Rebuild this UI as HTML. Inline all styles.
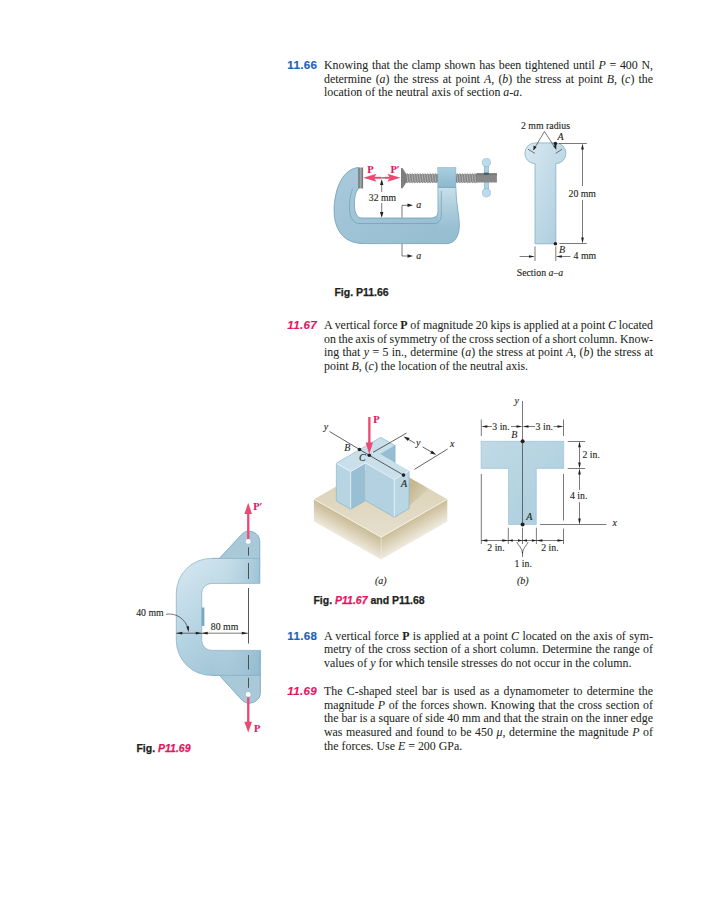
<!DOCTYPE html>
<html><head><meta charset="utf-8">
<style>
html,body{margin:0;padding:0;background:#fff;}
#pg{position:relative;width:719px;height:900px;overflow:hidden;background:#fff;font-family:"Liberation Serif",serif;color:#231f20;}
.p{position:absolute;left:324px;width:329px;-webkit-text-stroke:0.05px #231f20;font-size:11.9px;line-height:13.7px;}
.p div{white-space:nowrap;text-align:justify;text-align-last:justify;}
.p div.l{text-align:left;text-align-last:left;}
.num{position:absolute;left:287.3px;font-family:"Liberation Sans",sans-serif;font-weight:bold;font-size:11.6px;letter-spacing:0.3px;line-height:13px;-webkit-text-stroke:0.15px currentColor;}
.blue{color:#1d63b5;}
.red{color:#e2175f;font-style:italic;}
i{font-style:italic;}
.fig{position:absolute;font-family:"Liberation Sans",sans-serif;font-weight:bold;font-size:10.5px;color:#231f20;letter-spacing:0px;-webkit-text-stroke:0.25px currentColor;}
svg{position:absolute;left:0;top:0;}
</style></head><body><div id="pg">

<svg width="719" height="900" viewBox="0 0 719 900" font-family="Liberation Serif, serif">
<style>text{stroke-width:0.12px;}</style>
<defs>
<linearGradient id="gclamp" x1="0" y1="0" x2="1" y2="1">
<stop offset="0" stop-color="#a8cadb"/><stop offset="1" stop-color="#95bcd0"/></linearGradient>
<linearGradient id="gpad" x1="0" y1="0" x2="1" y2="0">
<stop offset="0" stop-color="#666"/><stop offset="0.45" stop-color="#a8a8a8"/><stop offset="1" stop-color="#6a6a6a"/></linearGradient>
<linearGradient id="gsec" x1="0" y1="0" x2="1" y2="1">
<stop offset="0" stop-color="#d8e9f1"/><stop offset="1" stop-color="#aacbdc"/></linearGradient>
<marker id="ah" viewBox="0 0 10 6" refX="10" refY="3" markerWidth="7" markerHeight="4" orient="auto" markerUnits="userSpaceOnUse"><path d="M0,0 L10,3 L0,6 L2.5,3 z" fill="#231f20"/></marker>
</defs>
<!-- ===== FIG P11.66 clamp ===== -->
<g id="clamp">
<linearGradient id="gblk" x1="0" y1="0" x2="0" y2="1"><stop offset="0" stop-color="#a9cee0"/><stop offset="1" stop-color="#8db8cc"/></linearGradient>
<linearGradient id="glite" x1="0" y1="0" x2="0" y2="1"><stop offset="0" stop-color="#c9e0ea"/><stop offset="1" stop-color="#b0d0df" stop-opacity="0"/></linearGradient>
<path d="M406 174.6 Q407.27 172.80 408.55 174.6 Q409.82 172.80 411.10 174.6 Q412.38 172.80 413.65 174.6 Q414.92 172.80 416.20 174.6 Q417.47 172.80 418.75 174.6 Q420.02 172.80 421.30 174.6 Q422.57 172.80 423.85 174.6 Q425.12 172.80 426.40 174.6 Q427.67 172.80 428.95 174.6 Q430.22 172.80 431.50 174.6 Q432.77 172.80 434.05 174.6 Q435.32 172.80 436.60 174.6 L438 174.6 L438 181.8 Q435.33 183.60 434.05 181.8 Q432.78 183.60 431.50 181.8 Q430.23 183.60 428.95 181.8 Q427.68 183.60 426.40 181.8 Q425.12 183.60 423.85 181.8 Q422.58 183.60 421.30 181.8 Q420.03 183.60 418.75 181.8 Q417.48 183.60 416.20 181.8 Q414.93 183.60 413.65 181.8 Q412.38 183.60 411.10 181.8 Q409.83 183.60 408.55 181.8 Q407.28 183.60 406.00 181.8 Z" fill="#858585" stroke="#5f5f5f" stroke-width="0.45"/><g stroke="#b5b5b5" stroke-width="0.9"><line x1="406.77" y1="174.0" x2="407.77" y2="182.4"/><line x1="409.32" y1="174.0" x2="410.32" y2="182.4"/><line x1="411.88" y1="174.0" x2="412.88" y2="182.4"/><line x1="414.42" y1="174.0" x2="415.42" y2="182.4"/><line x1="416.97" y1="174.0" x2="417.97" y2="182.4"/><line x1="419.52" y1="174.0" x2="420.52" y2="182.4"/><line x1="422.07" y1="174.0" x2="423.07" y2="182.4"/><line x1="424.62" y1="174.0" x2="425.62" y2="182.4"/><line x1="427.17" y1="174.0" x2="428.17" y2="182.4"/><line x1="429.72" y1="174.0" x2="430.72" y2="182.4"/><line x1="432.27" y1="174.0" x2="433.27" y2="182.4"/><line x1="434.82" y1="174.0" x2="435.82" y2="182.4"/></g>
<path d="M456 174.6 Q457.27 172.80 458.55 174.6 Q459.82 172.80 461.10 174.6 Q462.38 172.80 463.65 174.6 Q464.92 172.80 466.20 174.6 Q467.47 172.80 468.75 174.6 Q470.02 172.80 471.30 174.6 Q472.57 172.80 473.85 174.6 Q475.12 172.80 476.40 174.6 L477 174.6 L477 181.8 Q475.12 183.60 473.85 181.8 Q472.58 183.60 471.30 181.8 Q470.03 183.60 468.75 181.8 Q467.48 183.60 466.20 181.8 Q464.93 183.60 463.65 181.8 Q462.38 183.60 461.10 181.8 Q459.83 183.60 458.55 181.8 Q457.28 183.60 456.00 181.8 Z" fill="#858585" stroke="#5f5f5f" stroke-width="0.45"/><g stroke="#b5b5b5" stroke-width="0.9"><line x1="456.77" y1="174.0" x2="457.77" y2="182.4"/><line x1="459.32" y1="174.0" x2="460.32" y2="182.4"/><line x1="461.88" y1="174.0" x2="462.88" y2="182.4"/><line x1="464.42" y1="174.0" x2="465.42" y2="182.4"/><line x1="466.97" y1="174.0" x2="467.97" y2="182.4"/><line x1="469.52" y1="174.0" x2="470.52" y2="182.4"/><line x1="472.07" y1="174.0" x2="473.07" y2="182.4"/><line x1="474.62" y1="174.0" x2="475.62" y2="182.4"/></g>
<path d="M358.5 167.5 C346 168.5 336 182 334.2 206 C333 228 342 243.5 364 243.6 L447 243.6 C454 243.5 459.6 237 459.3 224 C459 213 456 204 455.9 187.5 L438 187.5 L438 211 C438 216 435.5 218 430 218 L362 218 C356.5 218 354.4 212 354.4 204 C354.4 197 355.8 191.5 358.5 188.5 Z" fill="url(#gclamp)" stroke="#6d9db8" stroke-width="0.8"/>
<path d="M438.4 187.9 L455.5 187.9 C455.6 204 458.6 213 458.9 224 L459 232 L438.4 232 Z" fill="url(#glite)"/>
<path d="M352.5 189 C349.5 196 348.8 206 350 214 C351.5 220 354.5 223.5 360 223.5 L434 223.5 C439 223.5 441.3 220 441.3 214 L441.3 191" fill="none" stroke="#6d9db8" stroke-width="0.7"/>
<rect x="437.8" y="167.6" width="18.1" height="19.9" fill="url(#gblk)" stroke="#7aaac2" stroke-width="0.5"/>
<rect x="358.5" y="167.5" width="4.6" height="21" fill="url(#gpad)"/>
<rect x="484.2" y="163" width="4.4" height="29" fill="#acd2e3" stroke="#7aaac2" stroke-width="0.5"/>
<circle cx="486.4" cy="162.5" r="4.1" fill="#bddbea" stroke="#7aaac2" stroke-width="0.5"/>
<circle cx="486.4" cy="192.8" r="4.1" fill="#bddbea" stroke="#7aaac2" stroke-width="0.5"/>
<rect x="476.5" y="173.3" width="20.4" height="9.2" fill="#888"/>
<rect x="476.5" y="173.3" width="20.4" height="2" fill="#7a7a7a"/>
<rect x="484" y="172.6" width="4.8" height="2.2" fill="#3f5f6e"/>
<!-- swivel pad -->
<path d="M401 168 L402.5 168 L406.3 174 L406.3 182.5 L402.5 188.2 L401 188.2 Z" fill="#7e7e7e"/>
<!-- arrows -->
<g fill="#ec4a73">
<rect x="370" y="176.8" width="11.5" height="2"/>
<rect x="385" y="176.8" width="8" height="2"/>
<path d="M363.3 177.8 L376.5 173.8 L374 177.8 L376.5 181.8 Z"/>
<path d="M400.6 177.8 L387.4 173.8 L389.9 177.8 L387.4 181.8 Z"/>
</g>
<rect x="381.5" y="177" width="3.5" height="1.6" fill="#888"/>
<g font-weight="bold" fill="#e2175f" font-size="10.5" stroke="#e2175f">
<text x="367.3" y="172.8">P</text><text x="390.4" y="172.8">P&#8242;</text></g>
<line x1="381.7" y1="181" x2="381.7" y2="192" stroke="#231f20" stroke-width="0.6"/>
<line x1="381.7" y1="203" x2="381.7" y2="216" stroke="#231f20" stroke-width="0.6"/>
<path d="M381.7 179.2 L380 185 L383.4 185 Z M381.7 217.8 L380 212 L383.4 212 Z" fill="#231f20"/>
<text x="368.8" y="200.6" font-size="9.7" fill="#231f20" stroke="#231f20">32 mm</text>
<g stroke="#231f20" stroke-width="0.6" fill="none">
<path d="M402 217.5 L402 205.3 L410 205.3"/><path d="M402 244 L402 256 L410 256"/></g>
<path d="M413 205.3 L407.5 203.6 L407.5 207 Z M413 256 L407.5 254.3 L407.5 257.7 Z" fill="#231f20"/>
<g font-style="italic" font-size="10" fill="#231f20" stroke="#231f20"><text x="416.3" y="207.5">a</text><text x="416.3" y="258.5">a</text></g>
</g>
<!-- section a-a -->
<g id="sec">
<path d="M535 243.8 L535 163.7 A10.4 10.4 0 0 1 535.5 142.9 L555.3 142.9 A10.4 10.4 0 0 1 555.8 163.7 L555.8 243.8 Z" fill="url(#gsec)" stroke="#7fb0c8" stroke-width="0.8"/>
<g stroke="#231f20" stroke-width="0.6" fill="none">
<polyline points="533.5,150 544.4,131.5 556.1,149.3"/>
<line x1="528" y1="149.2" x2="534.9" y2="153.4"/><line x1="555.6" y1="153.4" x2="562.1" y2="149.2"/>
</g>
<g stroke="#231f20" stroke-width="0.6" fill="none">
<line x1="559" y1="143.5" x2="586.8" y2="143.5"/>
<line x1="559.5" y1="243.5" x2="586.8" y2="243.5"/>
<line x1="582.5" y1="146" x2="582.5" y2="186"/><line x1="582.5" y1="200" x2="582.5" y2="241"/>
<line x1="535" y1="246.4" x2="535" y2="261"/><line x1="555.8" y1="246.4" x2="555.8" y2="261"/>
<line x1="519.6" y1="256.5" x2="531" y2="256.5"/><line x1="560" y1="256.5" x2="570.5" y2="256.5"/>
</g>
<g fill="#231f20">
<path d="M582.5 143.5 l-1.35 6 h2.7 z M582.5 243.5 l-1.35 -6 h2.7 z"/>
<path d="M535 256.5 l-6 -1.35 v2.7 z M555.8 256.5 l6 -1.35 v2.7 z"/>
<path d="M533.4 150.3 L533.6 145.5 L536.6 147.3 Z M556.2 149.6 L553.4 146 L556.4 144.6 Z"/>
<circle cx="555.4" cy="143.5" r="1.8"/><circle cx="555.4" cy="243.8" r="1.8"/>
</g>
<g font-size="9.8" fill="#231f20" stroke="#231f20">
<text x="521" y="128.9">2 mm radius</text>
<text x="568.5" y="196.8">20 mm</text>
<text x="573.6" y="258.9">4 mm</text>
<text x="516.7" y="275.6">Section <tspan font-style="italic">a</tspan>&#8211;<tspan font-style="italic">a</tspan></text>
</g>
<g font-style="italic" font-size="10" fill="#231f20" stroke="#231f20"><text x="557.6" y="139.8">A</text><text x="559" y="253">B</text></g>
</g>
<!-- ===== FIG P11.67 (a) ===== -->
<defs>
<linearGradient id="gbtop" x1="380" y1="461" x2="380" y2="537" gradientUnits="userSpaceOnUse"><stop offset="0" stop-color="#d8cdb1"/><stop offset="1" stop-color="#e6dfcc"/></linearGradient>
<linearGradient id="gbl" x1="347.5" y1="518.2" x2="337.9" y2="535.2" gradientUnits="userSpaceOnUse"><stop offset="0" stop-color="#c8ba94"/><stop offset="1" stop-color="#efe9dd"/></linearGradient>
<linearGradient id="gbr" x1="414.2" y1="518.2" x2="423.9" y2="535.1" gradientUnits="userSpaceOnUse"><stop offset="0" stop-color="#cbbd98"/><stop offset="1" stop-color="#f0ebe0"/></linearGradient>
<linearGradient id="gshad" x1="409" y1="490" x2="424" y2="500" gradientUnits="userSpaceOnUse"><stop offset="0" stop-color="#c4b690" stop-opacity="0.95"/><stop offset="1" stop-color="#c4b690" stop-opacity="0.15"/></linearGradient>
</defs>
<g id="figa">
<polygon points="313.9,499.2 380.8,461.2 447.3,499.2 381.1,537.2" fill="url(#gbtop)"/>
<polygon points="313.9,499.2 381.1,537.2 381.1,559.6 313.9,521.6" fill="url(#gbl)"/>
<polygon points="381.1,537.2 447.3,499.2 447.3,521.6 381.1,559.6" fill="url(#gbr)"/>
<polygon points="409.1,477.4 429,488.8 397,516.5 394.3,517.2 409.1,508.5" fill="url(#gshad)"/>
<polyline points="313.9,499.2 381.1,537.2 447.3,499.2" fill="none" stroke="#fbf8f0" stroke-width="0.8"/>
<line x1="381.1" y1="537.2" x2="381.1" y2="559.6" stroke="#f4efe3" stroke-width="0.6"/>
<polygon points="336.3,463.2 350.7,471.5 350.7,509.2 336.3,500.9" fill="#b7d4e3"/>
<polygon points="350.7,471.5 365.5,462.9 365.5,500.6 350.7,509.2" fill="#98bfd3"/>
<polygon points="365.5,462.9 394.3,479.5 394.3,517.2 365.5,500.6" fill="#b3d1e1"/>
<polygon points="394.3,479.5 409.1,470.8 409.1,508.5 394.3,517.2" fill="#b9d6e5"/>
<polygon points="380.3,454.2 395.1,445.6 395.1,463" fill="#96bdd2"/>
<polygon points="336.3,463.2 380.7,437.3 395.1,445.6 380.3,454.2 409.1,470.8 394.3,479.5 365.5,462.9 350.7,471.5" fill="#c9dfea"/>
<g fill="none" stroke="#f4f9fc" stroke-width="0.7">
<polyline points="336.3,463.2 350.7,471.5 365.5,462.9 394.3,479.5 409.1,470.8"/>
<line x1="350.7" y1="471.5" x2="350.7" y2="509.2"/><line x1="394.3" y1="479.5" x2="394.3" y2="517.2"/>
</g>
<g fill="none" stroke="#7db0c9" stroke-width="0.6">
<polyline points="336.3,500.9 336.3,463.2 380.7,437.3 395.1,445.6 395.1,463"/>
<polyline points="409.1,470.8 409.1,508.5 394.3,517.2 365.5,500.6 350.7,509.2 336.3,500.9"/>
<line x1="380.3" y1="454.2" x2="395.1" y2="445.6"/>
</g>
<g stroke="#231f20" stroke-width="0.7" fill="none">
<line x1="329.5" y1="431.5" x2="369.3" y2="455.3"/>
<line x1="369.3" y1="455.3" x2="403.5" y2="475.1"/>
<line x1="373.1" y1="452.3" x2="406.5" y2="433.1"/>
<line x1="414.4" y1="469.4" x2="447.6" y2="449"/>
<line x1="406" y1="438" x2="415" y2="443.2"/>
<line x1="422.6" y1="446.9" x2="433.5" y2="453.2"/>
</g>
<path d="M403.5 436.5 L409.6 437.9 L407.9 440.9 Z M436.3 454.8 L430.2 453.4 L431.9 450.4 Z" fill="#231f20"/>
<g fill="#231f20"><circle cx="359.5" cy="449.5" r="1.8"/><circle cx="369.3" cy="455.3" r="1.8"/><circle cx="403.5" cy="475.1" r="1.8"/></g>
<rect x="368.2" y="417" width="2.3" height="27" fill="#ec4a73"/>
<path d="M365.6 442.5 L373 442.5 L369.3 454 Z" fill="#ec4a73"/>
<text x="373.2" y="422.8" font-size="10.5" font-weight="bold" fill="#e2175f" stroke="#e2175f">P</text>
<g font-style="italic" font-size="10" fill="#231f20" stroke="#231f20">
<text x="323.8" y="429.8">y</text><text x="344.3" y="450.6">B</text><text x="359" y="460.6">C</text><text x="401.1" y="487">A</text>
<text x="416" y="445.6">y</text><text x="450" y="447.3">x</text>
<text x="375" y="584">(a)</text>
</g>
</g>
<!-- ===== FIG P11.67 (b) ===== -->
<g id="figb">
<linearGradient id="gtb" x1="481" y1="441" x2="564" y2="524" gradientUnits="userSpaceOnUse"><stop offset="0" stop-color="#c0dae6"/><stop offset="1" stop-color="#abcddd"/></linearGradient><path d="M481.1 441.3 L563.7 441.3 L563.7 468.4 L536.3 468.4 L536.3 524.5 L508.5 524.5 L508.5 468.4 L481.1 468.4 Z" fill="url(#gtb)" stroke="#93bcd0" stroke-width="0.6"/>
<g stroke="#231f20" stroke-width="0.6" fill="none">
<line x1="522.5" y1="401" x2="522.5" y2="524.5"/>
<line x1="481.3" y1="419.5" x2="481.3" y2="436"/>
<line x1="563.5" y1="419.5" x2="563.5" y2="436"/>
<line x1="484" y1="426.5" x2="492" y2="426.5"/><line x1="511" y1="426.5" x2="520" y2="426.5"/>
<line x1="525" y1="426.5" x2="535" y2="426.5"/><line x1="553.5" y1="426.5" x2="561" y2="426.5"/>
<line x1="567.7" y1="441.5" x2="585.2" y2="441.5"/>
<line x1="567.7" y1="468.5" x2="585.2" y2="468.5"/>
<line x1="579.5" y1="443" x2="579.5" y2="466.5"/>
<line x1="579.5" y1="470.5" x2="579.5" y2="490"/><line x1="579.5" y1="502" x2="579.5" y2="522.5"/>
<line x1="540.1" y1="524.5" x2="606.5" y2="524.5"/>
<line x1="481.3" y1="473.9" x2="481.3" y2="544"/>
<line x1="563.5" y1="473.9" x2="563.5" y2="520.5"/><line x1="563.5" y1="528.5" x2="563.5" y2="544"/>
<line x1="508.3" y1="527.7" x2="508.3" y2="544"/>
<line x1="536.4" y1="527.7" x2="536.4" y2="544"/>
<line x1="522.5" y1="527.7" x2="522.5" y2="544"/>
<line x1="481.3" y1="540.5" x2="563.5" y2="540.5"/>
<path d="M516.8 542 C518.5 546 522.5 548 522.5 553.5 C522.5 548 526.5 546 528.2 542"/>
<line x1="522.5" y1="552" x2="522.5" y2="557"/>
</g>
<g fill="#231f20">
<path d="M481.3 426.5 l6 -1.35 v2.7 z M522.5 426.5 l-6 -1.35 v2.7 z M522.5 426.5 l6 -1.35 v2.7 z M563.5 426.5 l-6 -1.35 v2.7 z"/>
<path d="M579.5 441.3 l-1.35 6 h2.7 z M579.5 468.4 l-1.35 -6 h2.7 z M579.5 468.4 l-1.35 6 h2.7 z M579.5 524.5 l-1.35 -6 h2.7 z"/>
<path d="M481.3 540.5 l6 -1.35 v2.7 z M508.3 540.5 l-6 -1.35 v2.7 z M508.3 540.5 l4.5 -1.2 v2.4 z M522.5 540.5 l-4.5 -1.2 v2.4 z M522.5 540.5 l4.5 -1.2 v2.4 z M536.4 540.5 l-4.5 -1.2 v2.4 z M536.4 540.5 l6 -1.35 v2.7 z M563.5 540.5 l-6 -1.35 v2.7 z"/>
<circle cx="522.6" cy="441.3" r="2"/><circle cx="522.6" cy="524.5" r="2"/>
</g>
<g font-size="9.8" fill="#231f20" stroke="#231f20">
<text x="492.3" y="430">3 in.</text><text x="535.6" y="430">3 in.</text>
<text x="582.5" y="457.6">2 in.</text><text x="570" y="499.4">4 in.</text>
<text x="487.3" y="551">2 in.</text><text x="541.2" y="551">2 in.</text>
<text x="514.5" y="566.5">1 in.</text>
</g>
<g font-style="italic" font-size="10" fill="#231f20" stroke="#231f20">
<text x="514.6" y="403.6">y</text><text x="511.2" y="438.3">B</text><text x="526.2" y="519.8">A</text><text x="612.4" y="526.2">x</text>
<text x="517" y="584">(b)</text>
</g>
</g>
<!-- ===== FIG P11.69 C-bar ===== -->
<defs>
<linearGradient id="gcb" x1="176" y1="560" x2="262" y2="670" gradientUnits="userSpaceOnUse"><stop offset="0" stop-color="#d6e8f0"/><stop offset="0.5" stop-color="#b5d3e2"/><stop offset="1" stop-color="#98bfd2"/></linearGradient>
<linearGradient id="garm" x1="0" y1="0" x2="1" y2="0"><stop offset="0" stop-color="#d0e4ed" stop-opacity="0"/><stop offset="1" stop-color="#8fb8cc" stop-opacity="0.6"/></linearGradient>
</defs>
<g id="cbar">
<path d="M211.7 558.4 L219.4 558.4 L241.5 534.65 A10.5 10.5 0 0 1 259.7 541.8 L259.7 583.4 L211.7 583.4 A10 10 0 0 0 201.7 593.4 L201.7 640.4 A10 10 0 0 0 211.7 650.4 L260.3 650.4 L260.3 692.2 A10.8 10.8 0 0 1 241.53 699.49 L219.5 675.4 L211.3 675.4 A35 35 0 0 1 176.3 640.4 L176.3 593.4 A35 35 0 0 1 211.7 558.4 Z" fill="url(#gcb)" stroke="#7eadc5" stroke-width="0.7"/>
<rect x="212" y="558.8" width="47.3" height="24.2" fill="url(#garm)"/>
<rect x="212" y="650.8" width="47.9" height="24.2" fill="url(#garm)"/>
<path d="M219.4 558.4 L241.5 534.65 A10.5 10.5 0 0 1 259.7 541.8 L259.7 558.4 Z" fill="#a9c9d9"/>
<path d="M219.5 675.4 L241.53 699.49 A10.8 10.8 0 0 0 260.3 692.2 L260.3 675.4 Z" fill="#a9c9d9"/>
<g fill="none" stroke="#7eadc5" stroke-width="0.7">
<path d="M219.4 558.4 L241.5 534.65 A10.5 10.5 0 0 1 259.7 541.8 L259.7 583.4"/>
<path d="M219.5 675.4 L241.53 699.49 A10.8 10.8 0 0 0 260.3 692.2 L260.3 650.4"/>
<line x1="212" y1="558.4" x2="259.7" y2="558.4"/><line x1="212" y1="675.4" x2="260.3" y2="675.4"/>
</g>
<circle cx="248.2" cy="541.4" r="2.9" fill="#fff" stroke="#7eadc5" stroke-width="0.6"/>
<circle cx="248.2" cy="694.3" r="2.9" fill="#fff" stroke="#7eadc5" stroke-width="0.6"/>
<rect x="201.7" y="607.5" width="2.7" height="18.5" fill="#7aa8c1"/>
<g stroke="#3a3a3a" stroke-width="0.85">
<line x1="248.5" y1="547.3" x2="248.5" y2="555.6"/><line x1="248.5" y1="563" x2="248.5" y2="579"/>
<line x1="248.5" y1="588" x2="248.5" y2="643.5"/>
<line x1="248.5" y1="655" x2="248.5" y2="669.5"/><line x1="248.5" y1="677.8" x2="248.5" y2="687.8"/>
</g>
<g stroke="#231f20" stroke-width="0.6" fill="none">
<line x1="176.3" y1="633.2" x2="201.7" y2="633.2"/><line x1="201.7" y1="633.2" x2="247.8" y2="633.2"/>
<path d="M166 614.3 C176 612.5 186 619 188.4 630"/>
</g>
<g fill="#231f20">
<path d="M176.3 633.2 l6 -1.35 v2.7 z M201.7 633.2 l-6 -1.35 v2.7 z M201.7 633.2 l6 -1.35 v2.7 z M247.8 633.2 l-6 -1.35 v2.7 z"/>
<path d="M188.7 632.3 L186.3 626.6 L189 626.3 Z"/>
</g>
<rect x="247.1" y="511" width="2.3" height="28" fill="#ec4a73"/>
<path d="M244.4 514 L252 514 L248.2 502.8 Z" fill="#ec4a73"/>
<rect x="247.1" y="697.2" width="2.3" height="26" fill="#ec4a73"/>
<path d="M244.4 721.8 L252 721.8 L248.2 732.4 Z" fill="#ec4a73"/>
<g font-size="10.5" font-weight="bold" fill="#e2175f" stroke="#e2175f"><text x="253.2" y="510">P&#8242;</text><text x="254.1" y="731.8">P</text></g>
<g font-size="9.8" fill="#231f20" stroke="#231f20"><text x="136.2" y="615.9">40 mm</text><text x="210.8" y="629.9">80 mm</text></g>
</g>
</svg>
<div class="num blue" style="top:57.6px">11.66</div>
<div class="p" style="top:59.1px;line-height:13.5px">
<div>Knowing that the clamp shown has been tightened until <i>P</i> = 400 N,</div>
<div>determine (<i>a</i>) the stress at point <i>A</i>, (<i>b</i>) the stress at point <i>B</i>, (<i>c</i>) the</div>
<div class="l">location of the neutral axis of section <i>a-a</i>.</div>
</div>

<div class="fig" style="left:334.4px;top:286px">Fig. P11.66</div>

<div class="num red" style="top:317.8px">11.67</div>
<div class="p" style="top:319px">
<div style="word-spacing:-0.23px">A vertical force <b>P</b> of magnitude 20 kips is applied at a point <i>C</i> located</div>
<div style="word-spacing:-0.45px">on the axis of symmetry of the cross section of a short column. Know-</div>
<div>ing that <i>y</i> = 5 in., determine (<i>a</i>) the stress at point <i>A</i>, (<i>b</i>) the stress at</div>
<div class="l">point <i>B</i>, (<i>c</i>) the location of the neutral axis.</div>
</div>

<div class="fig" style="left:313.4px;top:594px">Fig. <span class="red">P11.67</span> and P11.68</div>

<div class="num blue" style="top:628.6px">11.68</div>
<div class="p" style="top:629.7px">
<div>A vertical force <b>P</b> is applied at a point <i>C</i> located on the axis of sym-</div>
<div>metry of the cross section of a short column. Determine the range of</div>
<div class="l">values of <i>y</i> for which tensile stresses do not occur in the column.</div>
</div>

<div class="num red" style="top:683.6px">11.69</div>
<div class="p" style="top:684.8px">
<div>The C-shaped steel bar is used as a dynamometer to determine the</div>
<div>magnitude <i>P</i> of the forces shown. Knowing that the cross section of</div>
<div style="word-spacing:-0.08px">the bar is a square of side 40 mm and that the strain on the inner edge</div>
<div>was measured and found to be 450 <i>&mu;</i>, determine the magnitude <i>P</i> of</div>
<div class="l">the forces. Use <i>E</i> = 200 GPa.</div>
</div>

<div class="fig" style="left:136.4px;top:742px">Fig. <span class="red">P11.69</span></div>

</div></body></html>
